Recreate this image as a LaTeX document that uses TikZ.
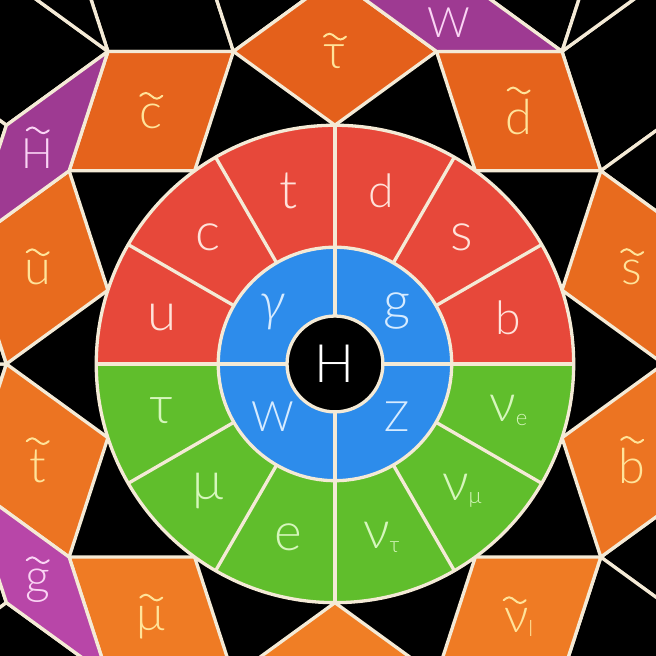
\documentclass[tikz,border=0pt]{standalone}
\usepackage{fontspec}
\setmainfont{Lato Light}
\usetikzlibrary{calc}

\definecolor{sred}{HTML}{E7483A}
\definecolor{sgreen}{HTML}{60BE2C}
\definecolor{sblue}{HTML}{2D8CEB}
\definecolor{otop}{HTML}{E4601B}
\definecolor{obot}{HTML}{F07E25}
\definecolor{spurple}{HTML}{9E3A92}
\definecolor{smagenta}{HTML}{B846A8}
\definecolor{sline}{HTML}{F4EAD6}
\definecolor{tred}{HTML}{FFE2DA}
\definecolor{tgreen}{HTML}{D6F6BC}
\definecolor{tblue}{HTML}{D6EBFF}
\definecolor{torange}{HTML}{FFE39A}
\definecolor{tpurple}{HTML}{FAD4F4}

\tikzset{
  tile/.style={draw=sline, line width=1.5pt, line join=round},
  ring/.style={draw=sline, line width=1.5pt},
  lbl/.style={inner sep=0pt, font=\fontsize{22}{22}\selectfont},
  lblbig/.style={inner sep=0pt, font=\fontsize{24}{24}\selectfont},
  lblmid/.style={inner sep=0pt, font=\fontsize{21}{21}\selectfont},
  lblsmall/.style={inner sep=0pt, font=\fontsize{19}{19}\selectfont},
  tilelbl/.style={yshift=-2.5pt},
  tildeline/.style={line width=0.9pt, line cap=round},
}
\newcommand{\sub}[1]{\raisebox{-1.5pt}{\fontsize{10}{10}\selectfont #1}}
\newcommand{\tildeon}[2]{\draw[tildeline, #2] ([xshift=-5pt, yshift=3.6pt]#1) sin ++(2.5pt,1.3pt) cos ++(2.5pt,-1.3pt) sin ++(2.5pt,-1.3pt) cos ++(2.5pt,1.3pt);}

\begin{document}
\begin{tikzpicture}[x=2cm, y=2cm]
    \useasboundingbox (-2.669,-2.327) rectangle (2.558,2.900);
    \clip (-2.669,-2.327) rectangle (2.558,2.900);
    \fill[black] (-2.669,-2.327) rectangle (2.558,2.900);

    % five turns of the same tiles
    \foreach \r/\pc in {0/spurple, 72/spurple, 144/spurple, 216/smagenta, 288/spurple} {
    \begin{scope}[rotate=\r]
        \coordinate (b18) at (1.809017, 0.587785);
        \coordinate (b54) at (1.118034, 1.538842);
        \coordinate (v0)  at (2.618034, 0);
        \coordinate (v36) at (2.118034, 1.538842);
        \coordinate (v72) at (0.809017, 2.489898);
        \coordinate (t18) at (2.927051, 0.951057);
        \coordinate (t54) at (1.809017, 2.489898);
        \coordinate (tm)  at (2.927051, -0.951057);
        \coordinate (x0)  at (3.236068, 0);
        \coordinate (w4)  at (1, 3.077684);
        \coordinate (q)   at (2.927051, 2.126627);
        \coordinate (a3)  at (2.618034, 3.077684);
        \coordinate (b3)  at (3.736068, 1.538842);
        \coordinate (c2)  at (2.118034, 3.440955);
        \coordinate (c3)  at (1.309017, 4.028741);
        \coordinate (d3)  at (2.927051, 4.028741);
        \coordinate (e2)  at (4.236068, 0);
        \coordinate (e3)  at (3.927051, 0.951057);
        \coordinate (f3)  at (4.736068, 1.538842);

        \filldraw[tile, fill=black] (v36) -- (t54) -- (a3) -- (q) -- cycle;
        \filldraw[tile, fill=black] (v36) -- (t18) -- (b3) -- (q) -- cycle;
        \filldraw[tile, fill=black] (t54) -- (c2) -- (c3) -- (w4) -- cycle;
        \filldraw[tile, fill=black] (t54) -- (a3) -- (d3) -- (c2) -- cycle;
        \filldraw[tile, fill=black] (x0) -- (e2) -- (e3) -- (t18) -- cycle;
        \filldraw[tile, fill=black] (t18) -- (e3) -- (f3) -- (b3) -- cycle;

        \pgfmathtruncatemacro{\ka}{50+50*sin(18+\r)}
        \pgfmathtruncatemacro{\kb}{50+50*sin(54+\r)}
        \filldraw[tile, fill=otop!\ka!obot] (b18) -- (v0) -- (t18) -- (v36) -- cycle;
        \filldraw[tile, fill=otop!\kb!obot] (b54) -- (v36) -- (t54) -- (v72) -- cycle;
        \filldraw[tile, fill=\pc] (v0) -- (t18) -- (x0) -- (tm) -- cycle;
    \end{scope}
    }

    % the wheel
    \fill[sred] (0:1.902) arc (0:180:1.902) -- cycle;
    \fill[sgreen] (180:1.902) arc (180:360:1.902) -- cycle;
    \fill[sblue] (0,0) circle (0.93);
    \foreach \a in {0,30,...,330}
        \draw[ring] (\a:0.93) -- (\a:1.902);
    \foreach \a in {0,90,180,270}
        \draw[ring] (\a:0.382) -- (\a:0.93);
    \draw[ring] (0,0) circle (1.902);
    \draw[ring] (0,0) circle (0.93);
    \filldraw[ring, fill=black] (0,0) circle (0.382);

    \node[lblbig, text=white] (higgs) at (0,0) {H};

    \node[lblbig, text=tblue] (gam) at (140:0.65) {\itshape γ};
    \node[lblbig, text=tblue] (glu) at (40:0.65) {g};
    \node[lblsmall, text=tblue] (wbo) at (220:0.65) {W};
    \node[lblsmall, text=tblue] (zbo) at (320:0.65) {Z};

    \node[lblbig, text=tred] (qu) at (165:1.43) {u};
    \node[lblbig, text=tred] (qc) at (135:1.43) {c};
    \node[lblbig, text=tred] (qt) at (105:1.43) {t};
    \node[lblmid, text=tred] (qd) at (75:1.43) {d};
    \node[lblbig, text=tred] (qs) at (45:1.43) {s};
    \node[lblmid, text=tred] (qb) at (15:1.43) {b};

    \node[lblbig, text=tgreen] (ltau) at (195:1.43) {τ};
    \node[lblbig, text=tgreen] (lmu) at (225:1.43) {μ};
    \node[lblbig, text=tgreen] (le) at (255:1.43) {e};
    \node[lblbig, text=tgreen] (nut) at (285:1.43) {ν\sub{τ}};
    \node[lblbig, text=tgreen] (num) at (315:1.43) {ν\sub{μ}};
    \node[lblbig, text=tgreen] (nue) at (345:1.43) {ν\sub{e}};

    % sparticles
    \node[lbl, tilelbl, text=torange] (stau) at (90:2.49) {τ};
    \node[lbl, tilelbl, text=torange] (sd) at (54:2.49) {d};
    \node[lbl, tilelbl, text=torange] (ss) at (18:2.49) {s};
    \node[lbl, tilelbl, text=torange] (sb) at (-18:2.49) {b};
    \node[lbl, tilelbl, text=torange] (snu) at (-54:2.49) {ν\sub{l}};
    \node[lbl, tilelbl, text=torange] (smu) at (-126:2.49) {μ};
    \node[lbl, tilelbl, text=torange] (st) at (-162:2.49) {t};
    \node[lbl, tilelbl, text=torange] (su) at (162:2.49) {u};
    \node[lbl, tilelbl, text=torange] (sc) at (126:2.49) {c};
    \coordinate (snutop) at ([xshift=-1.8pt]snu.north);

    \node[lblsmall, yshift=-3.5pt, text=tpurple] (sw) at (72:2.927) {W};
    \node[lblsmall, tilelbl, text=tpurple] (sh) at (144:2.927) {H};
    \node[lbl, tilelbl, text=tpurple] (sg) at (216:2.927) {g};

    \foreach \n in {stau, sd, ss, sb, snutop, smu, st, su, sc}
        \tildeon{\n.north}{torange};
    \foreach \n in {sh, sg}
        \tildeon{\n.north}{tpurple};
\end{tikzpicture}
\end{document}
